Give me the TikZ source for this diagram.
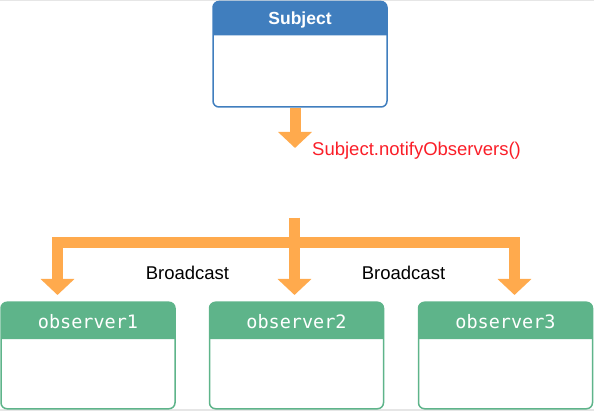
\documentclass[tikz,border=0pt]{standalone}
\usepackage{fontspec}
\newfontfamily\lsans{Liberation Sans}
\newfontfamily\dmono{DejaVu Sans Mono}
\usetikzlibrary{arrows.meta}
\definecolor{hdrblue}{RGB}{64,126,190}
\definecolor{obsgreen}{RGB}{94,180,138}
\definecolor{arrorange}{RGB}{255,170,77}
\definecolor{callred}{RGB}{250,30,40}
\definecolor{edgegray}{RGB}{230,230,230}
\tikzset{
  x=1pt, y=-1pt,
  classbox/.style={draw, line width=1.5pt, rounded corners=6pt, inner sep=0pt, outer sep=0pt, fill=white},
  subjbox/.style={classbox, draw=hdrblue, minimum width=174pt, minimum height=105.5pt},
  obsbox/.style={classbox, draw=obsgreen, minimum width=174pt, minimum height=106.5pt},
  hdrtext/.style={text=white, inner sep=0pt},
  flow/.style={draw=arrorange, line width=11pt, -{Triangle[width=33pt,length=16pt]}},
  flowbar/.style={draw=arrorange, line width=11pt, line join=miter},
  plainlabel/.style={font=\lsans\fontsize{18.5}{20}\selectfont, inner sep=0pt}
}
\begin{document}
\begin{tikzpicture}
\useasboundingbox (0,0) rectangle (594,411);
\fill[edgegray] (0,0) rectangle (594,1.2);
\fill[edgegray] (0,408.8) rectangle (594,411);

% Subject
\node[subjbox] (subject) at (300,54.25) {};
\fill[hdrblue] ([yshift=-34pt]subject.north west) [rounded corners=6pt] -- (subject.north west) -- (subject.north east) [sharp corners] -- ([yshift=-34pt]subject.north east) -- cycle;
\node[hdrtext, font=\lsans\bfseries\fontsize{17.5}{19}\selectfont] (subjtitle) at ([yshift=-18pt]subject.north) {Subject};

% Observers
\foreach \n/\cx in {1/88, 2/296.5, 3/505.5}{
  \node[obsbox] (o\n) at (\cx,355.5) {};
  \fill[obsgreen] ([yshift=-37pt]o\n.north west) [rounded corners=6pt] -- (o\n.north west) -- (o\n.north east) [sharp corners] -- ([yshift=-37pt]o\n.north east) -- cycle;
  \node[hdrtext, font=\dmono\fontsize{18.5}{20}\selectfont] (o\n title) at ([yshift=-19pt]o\n.north) {observer\n};
}

% Call arrow
\coordinate (callstart) at (295,108);
\coordinate (callend) at (295,148);
\path[flow] (callstart) -- (callend);
\node[plainlabel, text=callred, anchor=west] (call) at (312,150.5) {Subject.notifyObservers()};

% Broadcast
\coordinate (bstart) at (294.5,218);
\coordinate (bhub) at (294.5,242.5);
\coordinate (t1) at (57.5,295);
\coordinate (t2) at (294.5,295);
\coordinate (t3) at (514.5,295);
\path[flowbar] (bstart) -- (bhub);
\path[flow, line join=miter] (bhub) -| (t1);
\path[flow, line join=miter] (bhub) -| (t3);
\path[flow] (bstart) -- (t2);

\node[plainlabel] (b1) at (187.5,273) {Broadcast};
\node[plainlabel] (b2) at (403.5,273) {Broadcast};
\end{tikzpicture}
\end{document}
